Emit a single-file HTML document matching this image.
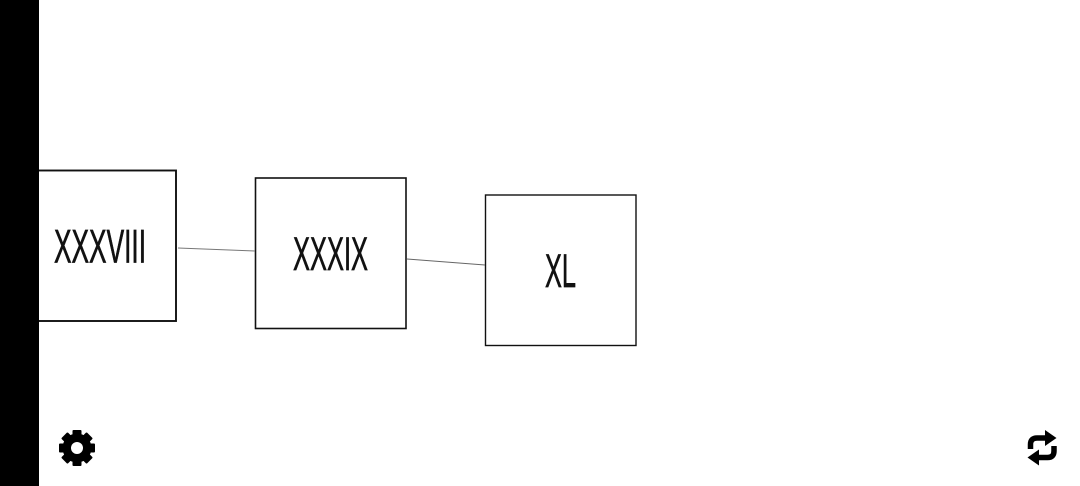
<!DOCTYPE html>
<html>
<head>
<meta charset="utf-8">
<style>
html,body{margin:0;padding:0;width:1080px;height:486px;overflow:hidden;background:#fff}
svg{display:block}
text{font-family:"Liberation Sans",sans-serif;fill:#111;stroke:#111;stroke-width:.7}
</style>
</head>
<body>
<svg width="1080" height="486" viewBox="0 0 1080 486" xmlns="http://www.w3.org/2000/svg">
<rect x="0" y="0" width="1080" height="486" fill="#fff"/>
<rect x="38" y="170.5" width="138" height="150.5" fill="#fff" stroke="#111" stroke-width="1.9"/>
<rect x="0" y="0" width="39" height="486" fill="#000"/>
<rect x="255.5" y="178" width="150.5" height="150.5" fill="#fff" stroke="#111" stroke-width="1.6"/>
<rect x="485.5" y="195" width="150.5" height="150.5" fill="#fff" stroke="#111" stroke-width="1.4"/>
<line x1="178" y1="248" x2="255" y2="251" stroke="#777" stroke-width="1"/>
<line x1="407" y1="259" x2="485" y2="265" stroke="#666" stroke-width="1"/>
<text x="54" y="262.5" font-size="47" textLength="92" lengthAdjust="spacingAndGlyphs">XXXVIII</text>
<text x="293" y="270" font-size="47" textLength="75" lengthAdjust="spacingAndGlyphs">XXXIX</text>
<text x="545" y="287" font-size="47" textLength="31" lengthAdjust="spacingAndGlyphs">XL</text>
<g transform="translate(77 448)" fill="#000">
<circle r="14.5"/>
<rect x="-4.5" y="-18" width="9" height="8" rx="1"/>
<rect x="-4.5" y="-18" width="9" height="8" rx="1" transform="rotate(45)"/>
<rect x="-4.5" y="-18" width="9" height="8" rx="1" transform="rotate(90)"/>
<rect x="-4.5" y="-18" width="9" height="8" rx="1" transform="rotate(135)"/>
<rect x="-4.5" y="-18" width="9" height="8" rx="1" transform="rotate(180)"/>
<rect x="-4.5" y="-18" width="9" height="8" rx="1" transform="rotate(225)"/>
<rect x="-4.5" y="-18" width="9" height="8" rx="1" transform="rotate(270)"/>
<rect x="-4.5" y="-18" width="9" height="8" rx="1" transform="rotate(315)"/>
<circle r="6" fill="#fff"/>
</g>
<g fill="none" stroke="#000" stroke-width="5.5">
<path d="M1030.5 449V444.5Q1030.5 438 1037 438H1048"/>
<path d="M1054 446V451Q1054 457.5 1047.5 457.5H1037"/>
</g>
<path d="M1045 430L1056.5 438 1045 446Z" fill="#000"/>
<path d="M1039 449.5L1027.5 457.5 1039 465.5Z" fill="#000"/>
</svg>
</body>
</html>
